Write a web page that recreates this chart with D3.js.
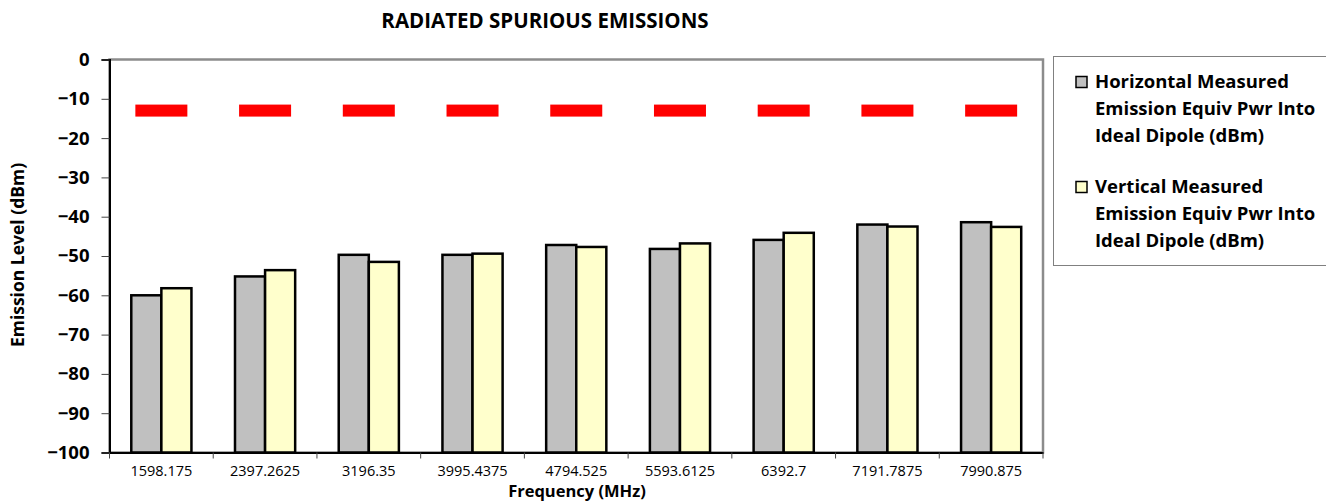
<!DOCTYPE html>
<html>
<head>
<meta charset="utf-8">
<script src="https://cdn.jsdelivr.net/npm/d3@7"></script>
<style>
  html, body { margin: 0; padding: 0; background: #fff; }
  svg { display: block; font-family: "Open Sans", sans-serif; }
</style>
</head>
<body>
<svg id="chart" width="1326" height="502"></svg>
<script>
// Test frequencies (MHz)
const categories = ["1598.175", "2397.2625", "3196.35", "3995.4375", "4794.525",
                    "5593.6125", "6392.7", "7191.7875", "7990.875"];
// Measured emission, equivalent power into ideal dipole (dBm)
const horizontal = [-60.0, -55.2, -49.7, -49.7, -47.2, -48.2, -45.9, -42.0, -41.4];
const vertical   = [-58.2, -53.6, -51.5, -49.4, -47.7, -46.8, -44.1, -42.5, -42.6];
// Emission limit (dBm)
const limit      = [-13, -13, -13, -13, -13, -13, -13, -13, -13];
const yTicks = [0, -10, -20, -30, -40, -50, -60, -70, -80, -90, -100];
const seriesNames = ["Horizontal Measured Emission Equiv Pwr Into Ideal Dipole (dBm)",
                     "Vertical Measured Emission Equiv Pwr Into Ideal Dipole (dBm)"];
const seriesColors = ["#c0c0c0", "#ffffcc"];

const svg = d3.select("#chart");
const plot = { left: 109.5, right: 1043, top: 59.5, bottom: 452.5 };

const x = d3.scaleBand().domain(categories).range([plot.left, plot.right]).padding(0);
const bw = x.bandwidth();
const x1 = d3.scaleBand().domain([0, 1]).range([bw * 0.21, bw * 0.79]).padding(0);
const y = d3.scaleLinear().domain([-100, 0]).range([plot.bottom, plot.top]);

// Plot area frame
svg.append("rect")
  .attr("x", plot.left).attr("y", plot.top)
  .attr("width", plot.right - plot.left).attr("height", plot.bottom - plot.top)
  .attr("fill", "#fff").attr("stroke", "#8c8c8c").attr("stroke-width", 2.5);

// Bars
const groups = svg.append("g").selectAll("g")
  .data(categories)
  .join("g")
  .attr("transform", d => `translate(${x(d)},0)`);

groups.selectAll("rect")
  .data((d, i) => [horizontal[i], vertical[i]])
  .join("rect")
  .attr("x", (d, j) => x1(j))
  .attr("width", x1.bandwidth())
  .attr("y", d => y(d))
  .attr("height", d => y(-100) - y(d))
  .attr("fill", (d, j) => seriesColors[j])
  .attr("stroke", "#000")
  .attr("stroke-width", 2.5);

// Limit markers
svg.append("g").selectAll("rect")
  .data(limit)
  .join("rect")
  .attr("x", (d, i) => x(categories[i]) + bw / 2 - 26)
  .attr("width", 52)
  .attr("y", d => y(d) - 6)
  .attr("height", 12)
  .attr("fill", "#ff0000");

// Y axis
const yAxis = svg.append("g")
  .attr("transform", `translate(${plot.left},0)`)
  .call(d3.axisLeft(y).tickValues(yTicks).tickSize(8).tickPadding(12).tickFormat(d3.format("d")));
yAxis.select(".domain").attr("stroke", "#000").attr("stroke-width", 2);
yAxis.selectAll(".tick line").attr("stroke", "#444");
yAxis.selectAll(".tick text")
  .attr("font-size", 18.5).attr("font-weight", "bold").attr("fill", "#000")
  .attr("font-family", "'Open Sans', sans-serif");

// X axis
const xAxis = svg.append("g")
  .attr("transform", `translate(0,${plot.bottom})`)
  .call(d3.axisBottom(x).tickSize(0).tickPadding(13));
xAxis.select(".domain").attr("stroke", "#000").attr("stroke-width", 2);
xAxis.selectAll(".tick text")
  .attr("font-size", 14.5).attr("fill", "#000")
  .attr("font-family", "'Open Sans', sans-serif");
// Category boundary ticks
svg.append("g").selectAll("line")
  .data(categories.map(c => x(c)).concat([plot.right]))
  .join("line")
  .attr("x1", d => d).attr("x2", d => d)
  .attr("y1", plot.bottom).attr("y2", plot.bottom + 6)
  .attr("stroke", "#444").attr("stroke-width", 1);

// Titles
svg.append("text")
  .attr("x", 545).attr("y", 28)
  .attr("text-anchor", "middle")
  .attr("font-size", 20.5).attr("font-weight", "bold")
  .text("RADIATED SPURIOUS EMISSIONS");

svg.append("text")
  .attr("x", 577).attr("y", 497)
  .attr("text-anchor", "middle")
  .attr("font-size", 16.5).attr("font-weight", "bold")
  .text("Frequency (MHz)");

svg.append("text")
  .attr("transform", "translate(24,255) rotate(-90)")
  .attr("text-anchor", "middle")
  .attr("font-size", 17.5).attr("font-weight", "bold")
  .text("Emission Level (dBm)");

// Legend
const legend = svg.append("g");
legend.append("rect")
  .attr("x", 1053.5).attr("y", 56.5)
  .attr("width", 280).attr("height", 209)
  .attr("fill", "#fff").attr("stroke", "#808080").attr("stroke-width", 1);

const legendLines = [
  ["Horizontal Measured", "Emission Equiv Pwr Into", "Ideal Dipole (dBm)"],
  ["Vertical Measured", "Emission Equiv Pwr Into", "Ideal Dipole (dBm)"]
];
const entryTop = [82, 187];
legendLines.forEach((lines, i) => {
  legend.append("rect")
    .attr("x", 1076).attr("y", entryTop[i] - 5.5)
    .attr("width", 11).attr("height", 11)
    .attr("fill", seriesColors[i]).attr("stroke", "#000").attr("stroke-width", 1.5)
    .append("title").text(seriesNames[i]);
  lines.forEach((t, k) => {
    legend.append("text")
      .attr("x", 1095).attr("y", entryTop[i] + k * 26.7)
      .attr("dy", "0.35em")
      .attr("font-size", 18.5).attr("font-weight", "bold")
      .text(t);
  });
});
</script>
</body>
</html>
